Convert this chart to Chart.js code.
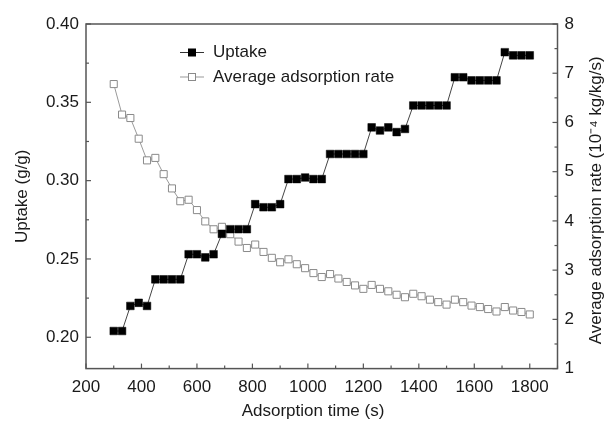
<!DOCTYPE html>
<html>
<head>
<meta charset="utf-8">
<script src="https://cdn.jsdelivr.net/npm/chart.js@4/dist/chart.umd.min.js"></script>
<style>
  html, body { margin: 0; padding: 0; background: #fff; }
  #wrap { width: 606px; height: 424px; }
</style>
</head>
<body>
<div id="wrap"><canvas id="c" width="606" height="424"></canvas></div>
<script>
// ---- data ----
const times = [300,330,360,390,420,450,480,510,540,570,600,630,660,690,720,750,780,810,840,870,900,930,960,990,1020,1050,1080,1110,1140,1170,1200,1230,1260,1290,1320,1350,1380,1410,1440,1470,1500,1530,1560,1590,1620,1650,1680,1710,1740,1770,1800];
const uptake = [0.204,0.204,0.220,0.222,0.220,0.237,0.237,0.237,0.237,0.253,0.253,0.251,0.253,0.266,0.269,0.269,0.269,0.285,0.283,0.283,0.285,0.301,0.301,0.302,0.301,0.301,0.317,0.317,0.317,0.317,0.317,0.334,0.332,0.334,0.331,0.333,0.348,0.348,0.348,0.348,0.348,0.366,0.366,0.364,0.364,0.364,0.364,0.382,0.380,0.380,0.380];
const avgRate = [6.78,6.16,6.09,5.67,5.23,5.28,4.95,4.66,4.40,4.43,4.22,3.99,3.83,3.88,3.73,3.58,3.45,3.52,3.37,3.25,3.16,3.22,3.12,3.04,2.94,2.86,2.92,2.83,2.76,2.69,2.62,2.70,2.62,2.57,2.50,2.45,2.52,2.47,2.40,2.35,2.30,2.40,2.35,2.28,2.25,2.21,2.16,2.25,2.18,2.15,2.10];
const xTicks = [200,400,600,800,1000,1200,1400,1600,1800];
const yLeftTicks = [0.20,0.25,0.30,0.35,0.40];
const yRightTicks = [1,2,3,4,5,6,7,8];
const seriesNames = ['Uptake','Average adsorption rate'];
const xTitle = 'Adsorption time (s)';
const yLeftTitle = 'Uptake (g/g)';
const yRightTitle = 'Average adsorption rate (10\u207B\u2074 kg/kg/s)';

const FONT = '"Liberation Sans", Arial, sans-serif';
const TXT = '#1a1a1a';
const AXIS = '#555';

const deco = {
  id: 'deco',
  afterDraw(chart) {
    const {ctx, chartArea: a, scales: {x, y, y2}} = chart;
    ctx.save();
    ctx.strokeStyle = AXIS;
    ctx.lineWidth = 1.5;
    ctx.strokeRect(a.left, a.top, a.right - a.left, a.bottom - a.top);
    ctx.lineWidth = 1.2;
    const seg = (x1, y1, x2, y2_) => { ctx.beginPath(); ctx.moveTo(x1, y1); ctx.lineTo(x2, y2_); ctx.stroke(); };
    // bottom ticks (inside)
    for (let v = 200; v <= 1900; v += 100) {
      const px = x.getPixelForValue(v);
      seg(px, a.bottom, px, a.bottom - (v % 200 === 0 ? 5 : 3));
    }
    // left ticks
    for (let v = 0.175; v <= 0.4001; v += 0.025) {
      if (v < 0.18) continue;
      const py = y.getPixelForValue(v);
      const major = Math.abs(Math.round(v * 20) - v * 20) < 1e-6;
      seg(a.left, py, a.left + (major ? 5 : 3), py);
    }
    // right ticks
    for (let v = 1; v <= 8.001; v += 0.5) {
      const py = y2.getPixelForValue(v);
      const major = Math.abs(Math.round(v) - v) < 1e-6;
      seg(a.right, py, a.right - (major ? 5 : 3), py);
    }
    // titles
    ctx.fillStyle = TXT;
    ctx.font = '17px ' + FONT;
    ctx.textAlign = 'center';
    ctx.textBaseline = 'middle';
    ctx.fillText(xTitle, 313, 411);
    ctx.save();
    ctx.translate(22, (a.top + a.bottom) / 2);
    ctx.rotate(-Math.PI / 2);
    ctx.fillText(yLeftTitle, 0, 0);
    ctx.restore();
    ctx.save();
    ctx.translate(596, (a.top + a.bottom) / 2 + 4);
    ctx.rotate(-Math.PI / 2);
    ctx.fillText(yRightTitle, 0, 0);
    ctx.restore();
    // legend
    const rows = [
      {y: 52.5, line: '#333', fill: '#000', stroke: '#000'},
      {y: 77, line: '#999', fill: '#fff', stroke: '#8a8a8a'}
    ];
    rows.forEach((r, i) => {
      ctx.strokeStyle = r.line; ctx.lineWidth = 1;
      seg(180, r.y, 204, r.y);
      ctx.fillStyle = r.fill; ctx.strokeStyle = r.stroke;
      ctx.fillRect(188.5, r.y - 3.5, 7, 7);
      ctx.strokeRect(188.5, r.y - 3.5, 7, 7);
      ctx.fillStyle = TXT;
      ctx.textAlign = 'left';
      ctx.fillText(seriesNames[i], 213, r.y);
    });
    ctx.restore();
  }
};

new Chart(document.getElementById('c'), {
  type: 'line',
  data: {
    labels: times,
    datasets: [
      {
        label: seriesNames[0],
        data: times.map((t, i) => ({x: t, y: uptake[i]})),
        yAxisID: 'y',
        borderColor: '#444',
        borderWidth: 1,
        pointStyle: 'rect',
        pointRadius: 5.4,
        pointBackgroundColor: '#000',
        pointBorderColor: '#000',
        pointBorderWidth: 0.5,
        tension: 0,
        order: 0
      },
      {
        label: seriesNames[1],
        data: times.map((t, i) => ({x: t, y: avgRate[i]})),
        yAxisID: 'y2',
        borderColor: '#9a9a9a',
        borderWidth: 1,
        pointStyle: 'rect',
        pointRadius: 5,
        pointBackgroundColor: '#fff',
        pointBorderColor: '#8a8a8a',
        pointBorderWidth: 1,
        tension: 0,
        order: 1
      }
    ]
  },
  options: {
    responsive: false,
    animation: false,
    devicePixelRatio: 1,
    layout: { padding: { top: 24, left: 0, right: 0, bottom: 0 } },
    plugins: { legend: { display: false }, tooltip: { enabled: false } },
    scales: {
      x: {
        type: 'linear', min: 200, max: 1900,
        grid: { display: false, drawTicks: false },
        border: { display: false },
        afterBuildTicks: s => { s.ticks = xTicks.map(v => ({value: v})); },
        afterFit: s => { s.height = 55.4; },
        ticks: { color: TXT, font: { size: 17, family: FONT }, padding: 9, maxRotation: 0, autoSkip: false, callback: v => String(v) }
      },
      y: {
        type: 'linear', position: 'left', min: 0.18, max: 0.40,
        grid: { display: false, drawTicks: false },
        border: { display: false },
        afterBuildTicks: s => { s.ticks = yLeftTicks.map(v => ({value: v})); },
        afterFit: s => { s.width = 86; },
        ticks: { color: TXT, font: { size: 17, family: FONT }, padding: 7, callback: v => Number(v).toFixed(2) }
      },
      y2: {
        type: 'linear', position: 'right', min: 1, max: 8,
        grid: { display: false, drawTicks: false },
        border: { display: false },
        afterBuildTicks: s => { s.ticks = yRightTicks.map(v => ({value: v})); },
        afterFit: s => { s.width = 606 - 557.5; },
        ticks: { color: TXT, font: { size: 17, family: FONT }, padding: 7, callback: v => String(v) }
      }
    }
  },
  plugins: [deco]
});
</script>
</body>
</html>
